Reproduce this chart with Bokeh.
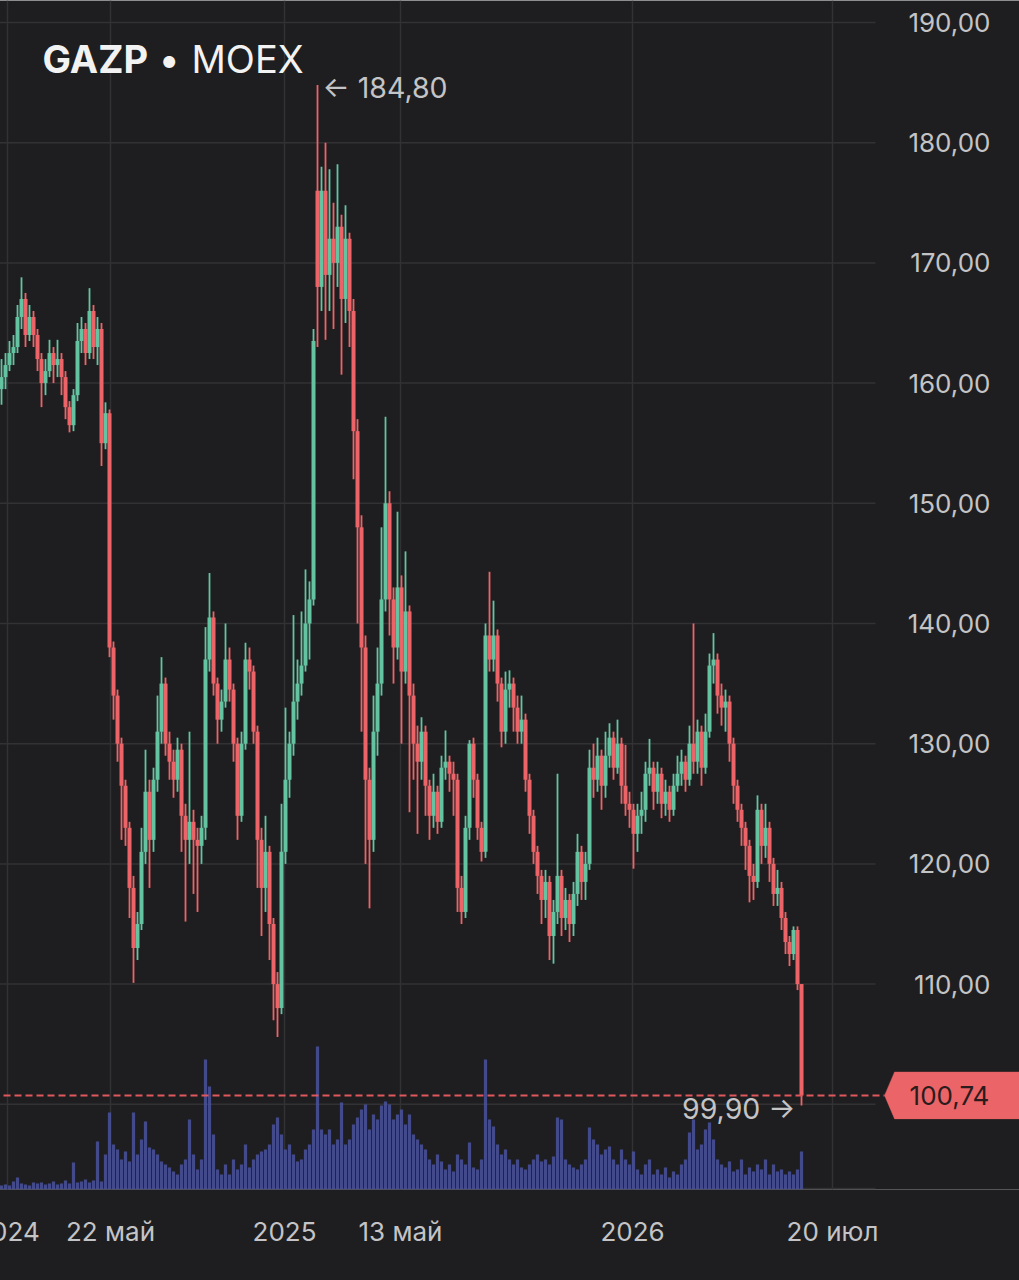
from bokeh.plotting import figure
from bokeh.models import (Range1d, FixedTicker, Label, ColumnDataSource,
                          PolyAnnotation)
from bokeh.embed import file_html
from bokeh.resources import INLINE

# ---------------- data ----------------
ticker = "GAZP"
exchange = "MOEX"

opens = [
    159.5, 160.5, 161.5, 162.5, 163, 165.5, 167, 164, 165.5, 164,
    162, 160, 161, 162.5, 161.5, 162, 160.5, 158, 156.5, 159,
    163.5, 164.5, 162.5, 166, 163, 164.5, 155, 157.5, 138, 134,
    130, 126.5, 123, 118, 113, 115, 121, 126, 122, 127,
    131, 135, 130, 128.5, 127, 129.5, 124, 122, 123.5, 122,
    121.5, 123, 137, 140.5, 135, 132, 133.5, 137, 134.5, 130,
    124, 130, 137, 136, 131, 122, 118, 121, 115, 110,
    108, 121, 127, 130, 133.5, 135, 136.5, 140, 142, 176,
    168, 176, 169, 172, 170, 173, 167, 172, 166, 156,
    148, 138, 127, 122, 131, 135, 142, 150, 142, 138,
    143, 136, 141, 134, 130, 128.5, 131, 126.5, 124, 126,
    123.5, 128, 128.5, 127.5, 127, 118, 116, 123, 130, 127,
    123, 121, 139, 137, 139, 135, 131, 134.5, 135, 133,
    131, 132, 127, 124, 121, 119, 117, 118.5, 114, 116,
    119, 115.5, 117, 115, 117.5, 121, 118.5, 120, 128, 127,
    129, 126.5, 129, 130.5, 128, 130, 126.5, 125, 124.5, 122.5,
    124, 124.5, 127.5, 128, 126, 127.5, 125, 126, 124.5, 126.5,
    127.5, 128.5, 127, 130, 128.5, 131, 128, 131, 136.5, 137,
    134, 133, 133.5, 130, 126.5, 124.5, 123, 121.5, 119, 118.5,
    124.5, 121.5, 123, 120, 117.5, 118, 115.5, 113.5, 112.5, 114.5,
    110,
]
closes = [
    160.5, 161.5, 162.5, 163, 165.5, 167, 164, 165.5, 164, 162,
    160, 161, 162.5, 161.5, 162, 160.5, 158, 156.5, 159, 163.5,
    164.5, 162.5, 166, 163, 164.5, 155, 157.5, 138, 134, 130,
    126.5, 123, 118, 113, 115, 121, 126, 122, 127, 131,
    135, 130, 128.5, 127, 129.5, 124, 122, 123.5, 122, 121.5,
    123, 137, 140.5, 135, 132, 133.5, 137, 134.5, 130, 124,
    130, 137, 136, 131, 122, 118, 121, 115, 110, 108,
    121, 127, 130, 133.5, 135, 136.5, 140, 142, 163.5, 168,
    176, 169, 172, 170, 173, 167, 172, 166, 156, 148,
    138, 127, 122, 131, 135, 142, 150, 142, 138, 143,
    136, 141, 134, 130, 128.5, 131, 126.5, 124, 126, 123.5,
    128, 128.5, 127.5, 127, 118, 116, 123, 130, 127, 123,
    121, 139, 137, 139, 135, 131, 134.5, 135, 133, 131,
    132, 127, 124, 121, 119, 117, 118.5, 114, 116, 119,
    115.5, 117, 115, 117.5, 121, 118.5, 120, 128, 127, 129,
    126.5, 129, 130.5, 128, 130, 126.5, 125, 124.5, 122.5, 124,
    124.5, 127.5, 128, 126, 127.5, 125, 126, 124.5, 126.5, 127.5,
    128.5, 127, 130, 128.5, 131, 128, 131, 136.5, 137, 134,
    133, 133.5, 130, 126.5, 124.5, 123, 121.5, 119, 118.5, 124.5,
    121.5, 123, 120, 117.5, 118, 115.5, 113.5, 112.5, 114.5, 110,
    100.74,
]
highs = [
    162, 162.5, 163.5, 164, 166.5, 168.8, 167.5, 166.5, 166, 164.5,
    162.5, 162, 163.6, 163, 163.6, 162.5, 161, 158.5, 159.5, 165,
    165.5, 165, 167.9, 166.5, 165.5, 165, 158.4, 157.8, 138.5, 134.5,
    130.5, 127, 123.5, 119, 116, 123, 129.5, 127, 128, 134,
    137.2, 135.5, 131, 129.5, 130.5, 130, 125, 131, 124.5, 123,
    124, 139.7, 144.2, 141, 135.5, 134.5, 140, 138, 135, 130.5,
    131, 138.4, 138, 136.5, 131.5, 123, 124, 121.5, 115.5, 111,
    125, 133, 131, 140.7, 137, 141, 144.5, 143.5, 164.5, 184.8,
    178, 180, 177.8, 175, 178.2, 174, 174.8, 172.5, 167, 157,
    149, 139, 128, 134, 138, 148, 157.2, 151, 143, 149.3,
    144, 146, 141.5, 135, 131.5, 132.2, 131.5, 127, 127.5, 126.5,
    129, 131.1, 129, 128.5, 127.5, 119, 124, 130.3, 130.5, 127.5,
    123.5, 140, 144.3, 141.9, 139.5, 135.5, 136, 136.1, 135.5, 134,
    134, 132.5, 127.5, 124.5, 121.5, 119.5, 119.5, 119, 117, 127.5,
    119.5, 118, 117.5, 118.5, 122.5, 121.5, 121, 129.5, 130, 130.5,
    129.5, 131, 131.7, 131, 132, 130.5, 129.9, 126, 125, 125,
    126, 128.5, 130.4, 128.5, 128.5, 128, 127, 126.5, 127.5, 129,
    129.5, 129, 131.5, 140, 132, 131.5, 132.5, 137.5, 139.2, 137.5,
    135, 134.5, 134, 130.5, 127, 125, 123.5, 122, 120, 125.7,
    125, 125, 123.5, 120.5, 119.5, 118.5, 116, 114, 114.8, 114.8,
    110,
]
lows = [
    158.2, 159.5, 161, 161.5, 162.5, 164.5, 163, 163.5, 163, 161,
    158, 159, 160.5, 160, 160.5, 159, 157, 155.9, 156, 158.5,
    162.5, 161.5, 162, 162, 161.5, 153.1, 154.5, 137.2, 132, 128.5,
    122, 121.5, 115.5, 110.1, 112, 114.5, 120, 118, 121, 126,
    130, 129, 127, 125.5, 126, 121, 115.2, 120, 117.5, 116,
    120, 122, 136, 134, 130, 131, 133, 133.5, 128.5, 122,
    123.5, 129.5, 134.5, 130, 118, 114, 116, 112, 107, 105.6,
    107.5, 120, 125.5, 129, 132, 134, 136, 137, 141.5, 163,
    166, 163.6, 166, 164.5, 168, 160.7, 165, 163, 152, 140,
    131, 120, 116.3, 121, 129, 134, 141, 139, 135, 137,
    130, 135, 124.3, 127, 122.5, 127, 124, 122, 123, 122.5,
    123, 127, 126, 124, 116, 115, 115.5, 122, 125.5, 122,
    120.2, 120.5, 136, 136, 133.5, 129.7, 130, 133, 131, 130,
    130, 126, 122.5, 120, 117.5, 115, 115.5, 112, 111.7, 115,
    114, 114.5, 113.5, 114, 116.5, 117, 117, 119.5, 125.5, 126,
    124.5, 125.5, 128, 127, 127.5, 125, 124, 123, 119.6, 121,
    122.5, 123.5, 126.5, 124.5, 125, 123.8, 124, 123.5, 124, 126,
    126.5, 126, 126.5, 127.5, 127.5, 126.5, 127.5, 130.5, 135, 132.5,
    131.5, 131, 128.5, 125, 123.5, 121.5, 119.5, 116.8, 117, 118,
    120, 120.5, 118.5, 116.5, 116.5, 114.5, 112.5, 111.5, 112, 109.5,
    99.9,
]
volumes_mln = [
    8, 10, 8, 16, 24, 12, 10, 8, 14, 12,
    14, 10, 12, 16, 10, 12, 18, 12, 54, 14,
    16, 20, 14, 18, 96, 16, 70, 154, 90, 80,
    60, 76, 56, 154, 70, 100, 136, 84, 80, 70,
    56, 50, 44, 36, 30, 50, 60, 140, 70, 40,
    60, 260, 206, 110, 40, 30, 50, 30, 60, 40,
    50, 90, 44, 60, 70, 76, 80, 90, 130, 144,
    110, 80, 90, 70, 56, 60, 80, 90, 120, 286,
    120, 110, 120, 90, 100, 174, 90, 100, 130, 144,
    160, 170, 120, 150, 140, 168, 176, 170, 140, 150,
    160, 130, 150, 110, 100, 90, 80, 60, 50, 70,
    56, 40, 50, 36, 70, 60, 50, 94, 44, 40,
    60, 260, 140, 126, 90, 70, 80, 60, 50, 60,
    44, 40, 50, 60, 70, 56, 60, 50, 66, 144,
    140, 60, 50, 44, 40, 50, 60, 124, 100, 90,
    70, 80, 86, 60, 50, 80, 60, 50, 76, 40,
    30, 50, 60, 30, 40, 30, 44, 24, 36, 30,
    50, 60, 114, 140, 80, 90, 120, 134, 100, 60,
    50, 44, 56, 36, 40, 60, 30, 44, 36, 50,
    40, 60, 30, 50, 36, 40, 30, 36, 30, 40,
    76,
]
# x axis: trading-session index of the labelled dates
x_tick_pos = [1.5, 27.25, 70.75, 99.75, 157.75, 207.75]
x_tick_labels = ["2024", "22 май", "2025", "13 май", "2026", "20 июл"]
y_tick_values = [110, 120, 130, 140, 150, 160, 170, 180, 190]
y_grid_values = [100, 110, 120, 130, 140, 150, 160, 170, 180, 190]

# ---------------- styling / layout ----------------
BG = "#1e1e20"
GRID = "#323235"
UP = "#64c3a0"
DOWN = "#ec6468"
VOL = "#4b55a6"
TXT = "#c4c4c6"
FONT = "Inter"

PAGE_W, H = 1019, 1280
LEFT_PAD = 30                # canvas starts left of the page edge (cut-off first label)
W = PAGE_W + LEFT_PAD
BB = 91                      # space below the frame for the date labels
PLOT_W = 875                 # width of the candle area (price scale to its right)
x_page0 = -0.25              # session index at the page's left edge
x_end = 254.5
ppx_x = PAGE_W / (x_end - x_page0)
x_start = x_page0 - LEFT_PAD / ppx_x
y_start, y_end = 92.91, 191.83
ppx_y = (H - BB) / (y_end - y_start)
plot_right = x_page0 + PLOT_W / ppx_x


def fmt(v):
    return f"{v:.2f}".replace(".", ",")


n = len(closes)
idx = list(range(n))
colors = [UP if c >= o else DOWN for o, c in zip(opens, closes)]
src = ColumnDataSource(dict(
    x=idx, open=opens, close=closes, high=highs, low=lows,
    top=[max(o, c) for o, c in zip(opens, closes)],
    bottom=[min(o, c) for o, c in zip(opens, closes)],
    color=colors, vol=volumes_mln,
))

p = figure(width=W, height=H, output_backend="svg", toolbar_location=None,
           x_range=Range1d(x_start, x_end), y_range=Range1d(y_start, y_end),
           y_axis_location="left", margin=(0, 0, 0, -LEFT_PAD),
           background_fill_color=BG, border_fill_color=BG, outline_line_color=None,
           min_border_left=0, min_border_top=0, min_border_right=0,
           min_border_bottom=BB)

p.extra_y_ranges = {"vol": Range1d(0, (H - BB) * 2)}

# vertical grid from the date ticks
p.xgrid.ticker = FixedTicker(ticks=x_tick_pos)
p.xgrid.grid_line_color = GRID
p.xgrid.grid_line_width = 1.5
p.ygrid.grid_line_color = None

# horizontal grid lines, stopping at the price scale
hl = y_grid_values + [y_start + 1.0 / ppx_y]
p.segment(x0=[x_start] * len(hl), y0=hl, x1=[plot_right] * len(hl), y1=hl,
          line_color=GRID, line_width=1.5)

# axes
p.xaxis.ticker = FixedTicker(ticks=x_tick_pos)
p.xaxis.major_label_overrides = {k: v for k, v in zip(x_tick_pos, x_tick_labels)}
p.xaxis.axis_line_color = None
p.xaxis.major_label_standoff = 20
p.yaxis.ticker = FixedTicker(ticks=y_tick_values)
p.yaxis.major_label_overrides = {v: fmt(v) for v in y_tick_values}
p.yaxis.fixed_location = plot_right
p.yaxis.axis_line_color = None
p.yaxis.major_label_standoff = -121
for ax in (p.xaxis, p.yaxis):
    ax.major_tick_line_color = None
    ax.minor_tick_line_color = None
    ax.major_label_text_font = FONT
    ax.major_label_text_font_size = "26px"
    ax.major_label_text_color = TXT

# volume
p.vbar(x="x", top="vol", bottom=0, width=0.8, source=src, y_range_name="vol",
       fill_color=VOL, fill_alpha=0.8, line_color=None)

# candles
p.segment(x0="x", y0="low", x1="x", y1="high", source=src,
          line_color="color", line_width=1.8)
p.vbar(x="x", top="top", bottom="bottom", width=1.0, source=src,
       fill_color="color", line_color=None)

# last price line
last = closes[-1]
p.segment(x0=[x_start], y0=[last], x1=[plot_right + 9 / ppx_x], y1=[last],
          line_color="#e0575d", line_dash="7 4", line_width=2)

# last price tag on the price scale
h = 23.5 / ppx_y
tx = [plot_right + d / ppx_x for d in (9, 19, 160, 160, 19)]
ty = [last, last + h, last + h, last - h, last - h]
p.add_layout(PolyAnnotation(xs=tx, ys=ty, fill_color="#ea6468", fill_alpha=1.0,
                            line_color="#ea6468", line_width=1))
p.add_layout(Label(x=plot_right, y=last, x_offset=74, text=fmt(last),
                   text_align="center", text_baseline="middle",
                   text_font=FONT, text_font_size="26px", text_color="#2a1c1d"))

# max / min annotations
imax = max(idx, key=lambda i: highs[i])
imin = min(idx, key=lambda i: lows[i])
p.add_layout(Label(x=imax, y=highs[imax], x_offset=5, y_offset=-3,
                   text="← " + fmt(highs[imax]),
                   text_baseline="middle", text_font=FONT,
                   text_font_size="28.5px", text_color=TXT))
p.add_layout(Label(x=imin, y=lows[imin], x_offset=-6, y_offset=-3,
                   text=fmt(lows[imin]) + " →", text_align="right",
                   text_baseline="middle", text_font=FONT,
                   text_font_size="28.5px", text_color=TXT))

# title
p.add_layout(Label(x=x_page0, y=y_end, x_offset=42, y_offset=-58.5, text=ticker,
                   text_baseline="middle", text_font=FONT, text_font_style="bold",
                   text_font_size="38px", text_color="#f2f2f2"))
p.add_layout(Label(x=x_page0, y=y_end, x_offset=158, y_offset=-58.5, text="•",
                   text_baseline="middle", text_font=FONT,
                   text_font_size="38px", text_color="#f2f2f2"))
p.add_layout(Label(x=x_page0, y=y_end, x_offset=191, y_offset=-58.5, text=exchange,
                   text_baseline="middle", text_font=FONT,
                   text_font_size="38px", text_color="#f2f2f2"))

open("out.html", "w").write(file_html(p, INLINE))
